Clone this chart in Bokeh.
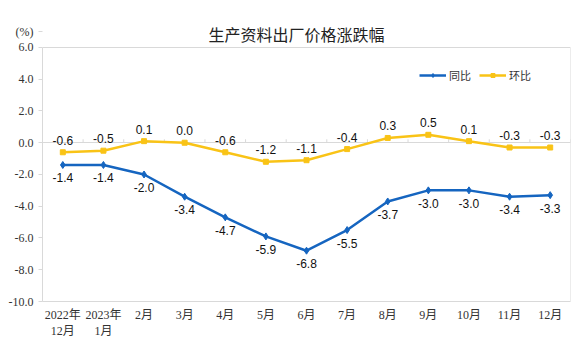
from bokeh.plotting import figure
from bokeh.models import (ColumnDataSource, Range1d, FactorRange, FixedTicker,
                          NumeralTickFormatter, Legend, LegendItem, Label, LabelSet)
from bokeh.transform import dodge
from bokeh.core.properties import value
from bokeh.embed import file_html
from bokeh.resources import INLINE

categories = ["2022年\n12月", "2023年\n1月", "2月", "3月", "4月", "5月", "6月",
              "7月", "8月", "9月", "10月", "11月", "12月"]
yoy = [-1.4, -1.4, -2.0, -3.4, -4.7, -5.9, -6.8, -5.5, -3.7, -3.0, -3.0, -3.4, -3.3]
mom = [-0.6, -0.5, 0.1, 0.0, -0.6, -1.2, -1.1, -0.4, 0.3, 0.5, 0.1, -0.3, -0.3]
y_ticks = [-10, -8, -6, -4, -2, 0, 2, 4, 6]
y_min, y_max = -10, 6
unit_pos = 7.0  # where the "(%)" unit label sits

BLUE = "#1565C0"
YELLOW = "#F9C316"
GRID = "#d9d9d9"

src = ColumnDataSource(dict(
    cat=categories, yoy=yoy, mom=mom,
    yoy_lbl=[f"{v:.1f}" for v in yoy], mom_lbl=[f"{v:.1f}" for v in mom],
    zero=[0.0] * len(categories), tick=[0.22] * len(categories),
))
edge = ColumnDataSource(dict(cat=[categories[-1]], lo=[y_min], hi=[y_max]))

p = figure(width=576, height=357, x_range=FactorRange(*categories),
           y_range=Range1d(y_min, 7.7), output_backend="svg", toolbar_location=None,
           min_border_left=42, min_border_right=6, min_border_top=20, min_border_bottom=56)

p.outline_line_color = None
p.xgrid.visible = False
p.ygrid.visible = False

p.yaxis.ticker = FixedTicker(ticks=y_ticks + [unit_pos])
p.yaxis.formatter = NumeralTickFormatter(format="0.0")
p.yaxis.major_label_overrides = {unit_pos: "(%)"}
p.yaxis.bounds = (y_min, y_max)
p.yaxis.axis_line_color = GRID
p.yaxis.major_tick_line_color = GRID
p.yaxis.major_tick_out = 4
p.yaxis.major_tick_in = 0
p.yaxis.minor_tick_line_color = None
p.yaxis.major_label_text_font = "Liberation Serif"
p.yaxis.major_label_text_font_size = "12px"
p.yaxis.major_label_text_color = "#333333"
p.yaxis.major_label_standoff = 5

p.xaxis.axis_line_color = GRID
p.xaxis.major_tick_line_color = None
p.xaxis.minor_tick_line_color = None
p.xaxis.major_label_text_font = "Liberation Serif, Noto Sans CJK SC"
p.xaxis.major_label_text_font_size = "12px"
p.xaxis.major_label_text_color = "#333333"
p.xaxis.major_label_standoff = 0

# plot-area top and right borders
p.hspan(y=[y_max], line_color=GRID, line_width=1)
p.segment(x0=dodge("cat", 0.5, range=p.x_range), y0="lo",
          x1=dodge("cat", 0.5, range=p.x_range), y1="hi",
          source=edge, line_color=GRID, line_width=1)

# zero line with ticks between categories
p.hspan(y=[0], line_color=GRID, line_width=1)
p.segment(x0=dodge("cat", 0.5, range=p.x_range), y0="zero",
          x1=dodge("cat", 0.5, range=p.x_range), y1="tick",
          source=src, line_color=GRID, line_width=1)

l1 = p.line("cat", "yoy", source=src, line_color=BLUE, line_width=2.5)
m1 = p.scatter("cat", "yoy", source=src, marker="diamond", size=7, color=BLUE)
l2 = p.line("cat", "mom", source=src, line_color=YELLOW, line_width=2.5)
m2 = p.scatter("cat", "mom", source=src, marker="square", size=5, color=YELLOW)

lbl_font = "Liberation Sans"
p.add_layout(LabelSet(x="cat", y="yoy", text="yoy_lbl", source=src, y_offset=-13,
                      text_align="center", text_baseline="middle", text_font=value(lbl_font),
                      text_font_size="12px", text_color="#111111"))
p.add_layout(LabelSet(x="cat", y="mom", text="mom_lbl", source=src, y_offset=12,
                      text_align="center", text_baseline="middle", text_font=value(lbl_font),
                      text_font_size="12px", text_color="#111111"))

legend = Legend(items=[LegendItem(label="同比", renderers=[l1, m1]),
                       LegendItem(label="环比", renderers=[l2, m2])],
                orientation="horizontal", location=(377, 218),
                background_fill_alpha=0, border_line_color=None,
                label_text_font="Noto Sans CJK SC", label_text_font_size="11px",
                label_text_color="#333333", glyph_width=27, glyph_height=10,
                spacing=8, padding=2, label_standoff=3, margin=0)
p.add_layout(legend)

# chart title (screen units measured from the plot area's bottom-left corner)
p.add_layout(Label(x=166, y=268, x_units="screen", y_units="screen",
                   text="生产资料出厂价格涨跌幅", text_font="Noto Sans CJK SC",
                   text_font_size="16px", text_color="#222222", text_baseline="middle"))

open("out.html", "w").write(file_html(p, INLINE))
